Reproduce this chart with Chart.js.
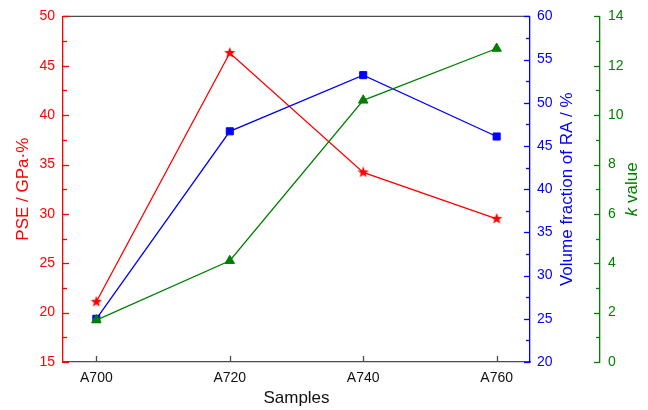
<!DOCTYPE html>
<html>
<head>
<meta charset="utf-8">
<script src="https://cdn.jsdelivr.net/npm/chart.js@4.4.1/dist/chart.umd.min.js"></script>
<style>
html, body { margin: 0; padding: 0; background: #fff; }
</style>
</head>
<body>
<canvas id="chart" width="648" height="410"></canvas>
<script>
// data
const samples = ['A700', 'A720', 'A740', 'A760'];
const pse = [21.1, 46.3, 34.2, 29.5];          // PSE / GPa·%
const raFraction = [25.0, 46.7, 53.2, 46.1];   // volume fraction of RA / %
const kValue = [1.7, 4.1, 10.6, 12.7];         // k value

const RED = '#ff0000';
const BLUE = '#0000ff';
const GREEN = '#008000';
const FONT = "'Liberation Sans', Arial, sans-serif";

// filled five point star used as the PSE marker
function makeStar(size, color) {
    const c = document.createElement('canvas');
    c.width = size;
    c.height = size;
    const g = c.getContext('2d');
    const cx = size / 2, cy = size / 2;
    const outer = size / 2, inner = outer * 0.42;
    g.beginPath();
    for (let i = 0; i < 10; i++) {
        const r = i % 2 === 0 ? outer : inner;
        const a = -Math.PI / 2 + i * Math.PI / 5;
        const px = cx + r * Math.cos(a);
        const py = cy + r * Math.sin(a);
        if (i === 0) g.moveTo(px, py); else g.lineTo(px, py);
    }
    g.closePath();
    g.fillStyle = color;
    g.fill();
    return c;
}

function toPoints(values) {
    return values.map((v, i) => ({ x: i, y: v }));
}

// inward tick marks, top frame line and the two right hand titles
const axisDecor = {
    id: 'axisDecor',
    afterDraw(chart) {
        const ctx = chart.ctx;
        const area = chart.chartArea;
        ctx.save();
        ctx.lineWidth = 1.3;

        // top frame
        ctx.strokeStyle = '#4d4d4d';
        ctx.beginPath();
        ctx.moveTo(area.left, area.top);
        ctx.lineTo(area.right, area.top);
        ctx.stroke();

        // x ticks, pointing up into the plot
        const sx = chart.scales.x;
        sx.ticks.forEach(t => {
            const px = Math.round(sx.getPixelForValue(t.value)) + 0.5;
            ctx.beginPath();
            ctx.moveTo(px, area.bottom);
            ctx.lineTo(px, area.bottom - 6);
            ctx.stroke();
        });

        // y ticks, major + minor
        const yAxes = [
            { id: 'yPse', color: RED, x: chart.scales.yPse.right, dir: 1 },
            { id: 'yRa', color: BLUE, x: chart.scales.yRa.left, dir: -1 },
            { id: 'yK', color: GREEN, x: chart.scales.yK.left, dir: -1 }
        ];
        yAxes.forEach(a => {
            const s = chart.scales[a.id];
            ctx.strokeStyle = a.color;
            const vals = s.ticks.map(t => t.value);
            vals.forEach((v, i) => {
                const py = Math.round(s.getPixelForValue(v)) + 0.5;
                ctx.beginPath();
                ctx.moveTo(a.x, py);
                ctx.lineTo(a.x + a.dir * 6, py);
                ctx.stroke();
                if (i < vals.length - 1) {
                    const my = Math.round(s.getPixelForValue((v + vals[i + 1]) / 2)) + 0.5;
                    ctx.beginPath();
                    ctx.moveTo(a.x, my);
                    ctx.lineTo(a.x + a.dir * 4, my);
                    ctx.stroke();
                }
            });
        });

        const midY = (area.top + area.bottom) / 2;

        // blue title, reads bottom to top
        ctx.fillStyle = BLUE;
        ctx.font = '17px ' + FONT;
        ctx.textAlign = 'center';
        ctx.textBaseline = 'middle';
        ctx.translate(567, midY);
        ctx.rotate(-Math.PI / 2);
        ctx.fillText('Volume fraction of RA / %', 0, 0);
        ctx.setTransform(1, 0, 0, 1, 0, 0);

        // green title with italic k
        ctx.fillStyle = GREEN;
        ctx.textAlign = 'left';
        ctx.translate(632, midY);
        ctx.rotate(-Math.PI / 2);
        ctx.font = 'italic 17px ' + FONT;
        const wk = ctx.measureText('k').width;
        ctx.font = '17px ' + FONT;
        const wv = ctx.measureText(' value').width;
        const x0 = -(wk + wv) / 2;
        ctx.font = 'italic 17px ' + FONT;
        ctx.fillText('k', x0, 0);
        ctx.font = '17px ' + FONT;
        ctx.fillText(' value', x0 + wk, 0);

        ctx.restore();
    }
};

const ctx = document.getElementById('chart').getContext('2d');

new Chart(ctx, {
    type: 'line',
    data: {
        datasets: [
            {
                label: 'PSE',
                data: toPoints(pse),
                yAxisID: 'yPse',
                borderColor: RED,
                borderWidth: 1.3,
                pointStyle: makeStar(12, RED),
                order: 2
            },
            {
                label: 'RA',
                data: toPoints(raFraction),
                yAxisID: 'yRa',
                borderColor: BLUE,
                backgroundColor: BLUE,
                borderWidth: 1.3,
                pointStyle: 'rect',
                pointRadius: 5,
                pointBorderWidth: 1,
                order: 1
            },
            {
                label: 'k',
                data: toPoints(kValue),
                yAxisID: 'yK',
                borderColor: GREEN,
                backgroundColor: GREEN,
                borderWidth: 1.3,
                pointStyle: 'triangle',
                pointRadius: 5.5,
                pointBorderWidth: 1,
                order: 0
            }
        ]
    },
    options: {
        responsive: false,
        animation: false,
        layout: { padding: { top: 15, left: 0, right: 0, bottom: 0 } },
        plugins: {
            legend: { display: false },
            tooltip: { enabled: false }
        },
        scales: {
            x: {
                type: 'linear',
                min: -0.25,
                max: 3.25,
                afterBuildTicks: scale => {
                    scale.ticks = samples.map((s, i) => ({ value: i }));
                },
                afterFit: scale => { scale.height = 48; },
                grid: { display: true, drawOnChartArea: false, drawTicks: false },
                border: { color: '#4d4d4d', width: 1.3 },
                ticks: {
                    padding: 8,
                    color: '#111',
                    font: { family: FONT, size: 14 },
                    callback: v => samples[v]
                },
                title: {
                    display: true,
                    text: 'Samples',
                    color: '#111',
                    font: { family: FONT, size: 17 },
                    padding: { top: 0, bottom: 1 }
                }
            },
            yPse: {
                position: 'left',
                min: 15,
                max: 50,
                afterFit: scale => { scale.width = 63; },
                grid: { drawOnChartArea: false, drawTicks: false },
                border: { color: RED, width: 1.3 },
                ticks: {
                    stepSize: 5,
                    padding: 8,
                    color: RED,
                    font: { family: FONT, size: 14 }
                },
                title: {
                    display: true,
                    text: 'PSE / GPa·%',
                    color: RED,
                    font: { family: FONT, size: 17 },
                    padding: { top: 13, bottom: 0 }
                }
            },
            yRa: {
                position: 'right',
                weight: 0,
                min: 20,
                max: 60,
                afterFit: scale => { scale.width = 70; },
                grid: { drawOnChartArea: false, drawTicks: false },
                border: { color: BLUE, width: 1.3 },
                ticks: {
                    stepSize: 5,
                    padding: 7,
                    color: BLUE,
                    font: { family: FONT, size: 14 }
                }
            },
            yK: {
                position: 'right',
                weight: 1,
                min: 0,
                max: 14,
                afterFit: scale => { scale.width = 48; },
                grid: { drawOnChartArea: false, drawTicks: false },
                border: { color: GREEN, width: 1.3 },
                ticks: {
                    stepSize: 2,
                    padding: 8,
                    color: GREEN,
                    font: { family: FONT, size: 14 }
                }
            }
        }
    },
    plugins: [axisDecor]
});
</script>
</body>
</html>
